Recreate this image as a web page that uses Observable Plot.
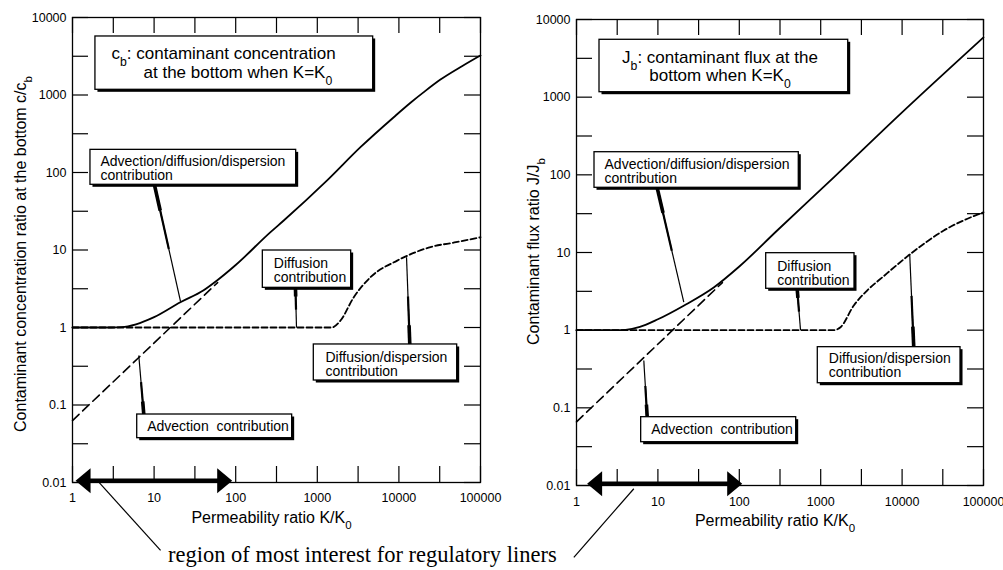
<!DOCTYPE html>
<html><head><meta charset="utf-8">
<script src="https://cdn.jsdelivr.net/npm/d3@7"></script>
<script src="https://cdn.jsdelivr.net/npm/@observablehq/plot@0.6"></script>
<style>
html,body{margin:0;padding:0;background:#fff;}
#wrap{position:relative;width:1003px;height:570px;overflow:hidden;background:#fff;}
#left,#right{position:absolute;top:0;}
#left{left:0;} #right{left:500px;}
#caption{position:absolute;left:168px;top:544px;font-family:"Liberation Serif","Times New Roman",serif;font-size:22.5px;line-height:22.5px;white-space:nowrap;color:#000;}
</style></head><body>
<div id="wrap"><div id="left"></div><div id="right"></div><div id="caption"></div></div>
<script>
// ---------- shared tick labels / text ----------
const xTickLabels = [1, 10, 100, 1000, 10000, 100000];
const yTickLabels = [0.01, 0.1, 1, 10, 100, 1000, 10000];
const xLabel = "Permeability ratio K/K_0";
const captionText = "region of most interest for regulatory liners";
const noteTexts = ["Advection/diffusion/dispersion\ncontribution", "Diffusion\ncontribution", "Diffusion/dispersion\ncontribution", "Advection  contribution"];

// ---------- panel 1: concentration ----------
const concYLabel = "Contaminant concentration ratio at the bottom c/c_b";
const concTitle = ["c_b: contaminant concentration", "at the bottom when K=K_0"];
const concTitleK = [3.01, 7.42];
const concTitleV = [3381, 1923];
const concTotalK = [1, 3, 4, 6, 10, 21, 40, 59, 100, 267, 388, 1320, 3380, 8650, 14000, 20000, 32300, 60000, 100000];
const concTotalV = [1, 1, 1.01, 1.1, 1.36, 2.12, 3.0, 4.04, 6.4, 17, 24, 79, 212, 517, 800, 1080, 1580, 2370, 3240];
const concDiffK = [1, 1500, 1925, 2800, 4490, 9530, 24400, 50000, 100000];
const concDiffV = [1, 1, 1.23, 2.46, 4.46, 7.3, 10.9, 12.6, 14.6];
const concAdvK = [1, 60];
const concAdvV = [0.063, 3.8];
const concBoxX1 = [1.91, 1.66, 215, 906, 6.21];
const concBoxX2 = [4840, 551, 2600, 51800, 492];
const concBoxTop = [5690, 196, 9.85, 0.604, 0.0754];
const concBoxBottom = [1167, 69.4, 3.25, 0.207, 0.0373];
const concNoteK = [2.20, 293, 1260, 8.23];
const concNoteV = [111, 5.36, 0.333, 0.0532];
const concLeadK1 = [10.1, 540, 13600, 7.48];
const concLeadV1 = [69.4, 3.25, 0.604, 0.0754];
const concLeadK2 = [21.1, 556, 12400, 6.49];
const concLeadV2 = [2.16, 1, 8.07, 0.435];
const concArrowK = [1.09, 90.6];
const concShaftK = [1.5, 68];
const concArrowV = 0.0105;
const concCapK = [2.1, 12.0];
const concCapV = [0.0101, 0.00133];

// ---------- panel 2: flux ----------
const fluxYLabel = "Contaminant flux ratio J/J_b";
const fluxTitle = ["J_b: contaminant flux at the", "bottom when K=K_0"];
const fluxTitleK = [57.9, 57.9];
const fluxTitleV = [3195, 1901];
const fluxTotalK = [1, 3, 4, 6, 10, 21, 49, 100, 292, 1449, 9550, 100000];
const fluxTotalV = [1, 1, 1.01, 1.1, 1.38, 2.08, 3.57, 6.6, 19.2, 93, 611, 5900];
const fluxDiffK = [1, 1450, 1750, 2550, 3720, 6000, 12700, 32500, 100000];
const fluxDiffV = [1, 1, 1.09, 2.08, 3.24, 5.0, 9.6, 19.2, 33];
const fluxAdvK = [1, 62];
const fluxAdvV = [0.066, 4.1];
const fluxBoxX1 = [1.917, 1.664, 214, 921, 6.23];
const fluxBoxX2 = [2178, 538, 2602, 52200, 500];
const fluxBoxTop = [5480, 195.6, 9.8, 0.604, 0.0758];
const fluxBoxBottom = [1158, 68.1, 3.41, 0.2075, 0.0361];
const fluxNoteK = [2.21, 292, 1258, 8.27];
const fluxNoteV = [110, 5.29, 0.351, 0.0526];
const fluxLeadK1 = [9.8, 514, 13900, 7.39];
const fluxLeadV1 = [68.1, 3.41, 0.604, 0.0758];
const fluxLeadK2 = [20.8, 565, 12400, 6.71];
const fluxLeadV2 = [2.29, 1, 9.6, 0.407];
const fluxArrowK = [1.35, 108.6];
const fluxShaftK = [1.7, 78];
const fluxArrowV = 0.0105;
const fluxCapK = [5.06, 0.927];
const fluxCapV = [0.00908, 0.00119];

// ---------- helpers ----------
const SANS = "'Liberation Sans', Arial, Helvetica, sans-serif";
const headRight = {draw(ctx) { ctx.moveTo(0, 0); ctx.lineTo(-15, -12.5); ctx.lineTo(-15, 12.5); ctx.closePath(); }};
const headLeft = {draw(ctx) { ctx.moveTo(0, 0); ctx.lineTo(15, -12.5); ctx.lineTo(15, 12.5); ctx.closePath(); }};
const pts = (X, Y) => X.map((x, i) => ({x, y: Y[i]}));
const frac = (a, b, t) => a * Math.pow(b / a, t);

function subify(svg) {
  svg.querySelectorAll("text, tspan").forEach(el => {
    if (el.children.length) return;
    const s = el.textContent;
    if (!/_[A-Za-z0-9]/.test(s)) return;
    el.textContent = "";
    s.split(/_([A-Za-z0-9])/).forEach((p, i) => {
      if (i % 2 === 0) { if (p) el.appendChild(document.createTextNode(p)); }
      else {
        const t = document.createElementNS("http://www.w3.org/2000/svg", "tspan");
        t.setAttribute("baseline-shift", "sub");
        t.setAttribute("font-size", "72%");
        t.textContent = p;
        el.appendChild(t);
      }
    });
  });
}

function panel(c) {
  const H = 570;
  const fw = c.width - c.ml - c.mr, fh = H - c.mt - c.mb;
  const tl = 16;
  const xt = d3.range(0, 11).map(k => Math.pow(10, k / 2));
  const yt = d3.range(-4, 9).map(k => Math.pow(10, k / 2));
  const boxIdx = d3.range(c.boxX1.length);
  const leadIdx = d3.range(c.leadK1.length);
  const leadSeg = (t, w) => Plot.link(leadIdx, {
    x1: i => c.leadK1[i], y1: i => c.leadV1[i],
    x2: i => frac(c.leadK1[i], c.leadK2[i], t), y2: i => frac(c.leadV1[i], c.leadV2[i], t),
    stroke: "black", strokeWidth: w, strokeLinecap: "butt"
  });
  const svg = Plot.plot({
    width: c.width, height: H,
    marginLeft: c.ml, marginRight: c.mr, marginTop: c.mt, marginBottom: c.mb,
    x: {type: "log", domain: [1, 1e5]},
    y: {type: "log", domain: [0.01, 1e4]},
    style: {background: "transparent", overflow: "visible", fontFamily: SANS, fontSize: "12.5px", color: "black"},
    marks: [
      Plot.frame({stroke: "black", strokeWidth: 1.3}),
      Plot.tickX(xt, {x: d => d, insetTop: fh - tl, stroke: "black", strokeWidth: 1.2}),
      Plot.tickX(xt, {x: d => d, insetBottom: fh - tl, stroke: "black", strokeWidth: 1.2}),
      Plot.tickY(yt, {y: d => d, insetRight: fw - tl, stroke: "black", strokeWidth: 1.2}),
      Plot.tickY(yt, {y: d => d, insetLeft: fw - tl, stroke: "black", strokeWidth: 1.2}),
      Plot.axisX({ticks: xTickLabels, tickSize: 0, tickPadding: c.xpad, tickFormat: d => String(d), label: null, fontSize: 12.5}),
      Plot.axisY({ticks: yTickLabels, tickSize: 0, tickPadding: 6, tickFormat: d => String(d), label: null, fontSize: 12.5}),
      // curves
      Plot.line(pts(c.advK, c.advV), {x: "x", y: "y", stroke: "black", strokeWidth: 1.6, strokeDasharray: "9,5"}),
      Plot.line(pts(c.diffK, c.diffV), {x: "x", y: "y", stroke: "black", strokeWidth: 1.8, strokeDasharray: "6,3", curve: "monotone-x"}),
      Plot.line(pts(c.totK, c.totV), {x: "x", y: "y", stroke: "black", strokeWidth: 1.8, curve: "monotone-x"}),
      // leaders (tapered)
      leadSeg(1, 1.2), leadSeg(0.55, 2.2), leadSeg(0.22, 3.6),
      // boxes
      Plot.rect(boxIdx, {x1: i => c.boxX1[i], x2: i => c.boxX2[i], y1: i => c.boxTop[i], y2: i => c.boxBottom[i], fill: "black", dx: 2.5, dy: 2.5}),
      Plot.rect(boxIdx, {x1: i => c.boxX1[i], x2: i => c.boxX2[i], y1: i => c.boxTop[i], y2: i => c.boxBottom[i], fill: "white", stroke: "black", strokeWidth: 1.3}),
      Plot.text(d3.range(4), {x: i => c.noteK[i], y: i => c.noteV[i], text: i => noteTexts[i], textAnchor: "start", lineHeight: 1.0, fontSize: 14, fill: "black"}),
      Plot.text(d3.range(2), {x: i => c.titleK[i], y: i => c.titleV[i], text: i => c.title[i], textAnchor: c.titleAnchor, fontSize: 17, fill: "black"}),
      // arrow
      Plot.link([0], {x1: () => c.shaftK[0], x2: () => c.shaftK[1], y1: () => c.arrowV, y2: () => c.arrowV, stroke: "black", strokeWidth: 4.5}),
      Plot.dot([0], {x: () => c.arrowK[0], y: () => c.arrowV, symbol: headLeft, fill: "black"}),
      Plot.dot([0], {x: () => c.arrowK[1], y: () => c.arrowV, symbol: headRight, fill: "black"}),
      // caption leader
      Plot.link([0], {x1: () => c.capK[0], y1: () => c.capV[0], x2: () => c.capK[1], y2: () => c.capV[1], stroke: "black", strokeWidth: 1.2}),
      // axis titles
      Plot.text([xLabel], {text: d => d, frameAnchor: "bottom", textAnchor: "middle", dy: 40, dx: c.xldx, fontSize: 16, fill: "black"}),
      Plot.text([c.ylabel], {text: d => d, frameAnchor: "left", textAnchor: "middle", rotate: -90, dx: c.yldx, dy: c.yldy, fontSize: 16, fill: "black"})
    ]
  });
  subify(svg);
  return svg;
}

const left = panel({
  width: 500, ml: 72, mr: 20, mt: 17, mb: 88, xpad: 11,
  advK: concAdvK, advV: concAdvV, diffK: concDiffK, diffV: concDiffV, totK: concTotalK, totV: concTotalV,
  boxX1: concBoxX1, boxX2: concBoxX2, boxTop: concBoxTop, boxBottom: concBoxBottom,
  noteK: concNoteK, noteV: concNoteV, title: concTitle, titleK: concTitleK, titleV: concTitleV, titleAnchor: "start",
  leadK1: concLeadK1, leadV1: concLeadV1, leadK2: concLeadK2, leadV2: concLeadV2,
  arrowK: concArrowK, shaftK: concShaftK, arrowV: concArrowV, capK: concCapK, capV: concCapV,
  ylabel: concYLabel, yldx: -52, yldy: 4, xldx: -5
});
const right = panel({
  width: 503, ml: 76, mr: 20, mt: 19, mb: 85, xpad: 12,
  advK: fluxAdvK, advV: fluxAdvV, diffK: fluxDiffK, diffV: fluxDiffV, totK: fluxTotalK, totV: fluxTotalV,
  boxX1: fluxBoxX1, boxX2: fluxBoxX2, boxTop: fluxBoxTop, boxBottom: fluxBoxBottom,
  noteK: fluxNoteK, noteV: fluxNoteV, title: fluxTitle, titleK: fluxTitleK, titleV: fluxTitleV, titleAnchor: "middle",
  leadK1: fluxLeadK1, leadV1: fluxLeadV1, leadK2: fluxLeadK2, leadV2: fluxLeadV2,
  arrowK: fluxArrowK, shaftK: fluxShaftK, arrowV: fluxArrowV, capK: fluxCapK, capV: fluxCapV,
  ylabel: fluxYLabel, yldx: -43, yldy: -1, xldx: -5
});
document.getElementById("left").appendChild(left);
document.getElementById("right").appendChild(right);
document.getElementById("caption").textContent = captionText;
</script>
</body></html>
